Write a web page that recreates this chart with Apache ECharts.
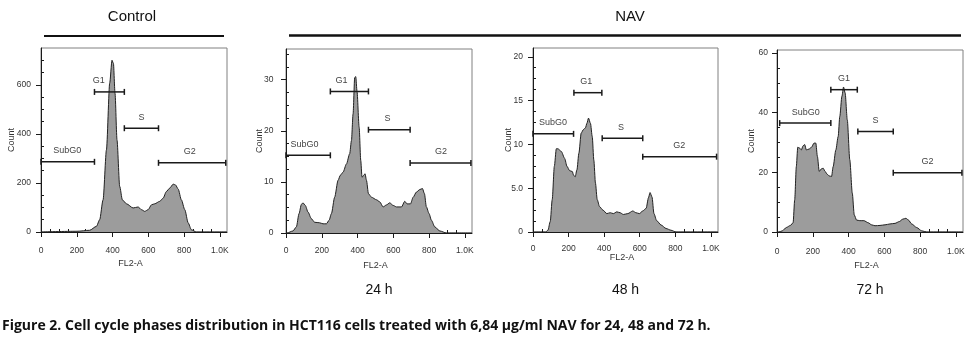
<!DOCTYPE html>
<html><head><meta charset="utf-8">
<script src="https://cdn.jsdelivr.net/npm/echarts@6/dist/echarts.min.js"></script>
<style>html,body{margin:0;padding:0;background:#fff}#c{width:974px;height:362px}</style>
</head><body><div id="c"></div><script>
// ---------- data ----------
const X_MAX = 1040;
const xTickValues = [0, 200, 400, 600, 800, 1000];
const xTickLabels = ['0', '200', '400', '600', '800', '1.0K'];
const xMinorTicks = [50, 100, 150, 250, 300, 350, 450, 500, 550, 650, 700, 750, 850, 900, 950];

const gateNames = ['SubG0', 'G1', 'S', 'G2'];

// Control
const ctrlX = [0, 201, 272, 310, 328, 347, 366, 384, 397, 405, 414, 425, 440, 455, 478, 515, 543, 562, 580, 599, 618, 636, 664, 683, 701, 720, 739, 752, 767, 785, 804, 823, 841, 869, 1040];
const ctrlY = [0, 3, 7, 23, 50, 131, 335, 606, 700, 687, 565, 375, 186, 131, 115, 98, 102, 91, 84, 91, 111, 115, 125, 138, 165, 179, 195, 192, 175, 131, 91, 37, 9, 0, 0];
const ctrlYMax = 750;
const ctrlYTicks = [0, 200, 400, 600];
const ctrlYTickLabels = ['0', '200', '400', '600'];
const ctrlYMinor = [50, 100, 150, 250, 300, 350, 450, 500, 550, 650, 700];
const ctrlGateStart = [0, 299, 466, 657];
const ctrlGateEnd = [299, 466, 657, 1033];
const ctrlGateLevel = [286, 571, 423, 282];
const ctrlGateLabelX = [147, 323, 562, 832];

// NAV 24 h
const h24X = [0, 6, 39, 58, 73, 86, 95, 108, 123, 142, 160, 188, 207, 226, 241, 254, 272, 291, 304, 319, 338, 356, 366, 375, 384, 390, 397, 409, 418, 425, 435, 442, 450, 461, 478, 506, 524, 543, 562, 580, 599, 618, 646, 664, 677, 696, 711, 729, 748, 763, 774, 785, 800, 813, 832, 860, 897, 1040];
const h24Y = [0, 0, 0.4, 1.2, 3.8, 5.6, 5.9, 5.4, 4.1, 2.8, 2.1, 2.0, 1.8, 1.8, 2.5, 3.8, 7.0, 10.3, 11.3, 11.9, 13.5, 15.5, 18.1, 23.3, 30.4, 30.6, 27.8, 20.7, 14.2, 10.9, 11.3, 11.6, 10.3, 7.7, 7.0, 6.5, 6.1, 5.1, 5.5, 5.9, 5.4, 5.1, 5.1, 6.2, 5.7, 5.7, 7.0, 8.0, 8.5, 8.7, 7.7, 5.1, 3.8, 2.5, 1.2, 0.4, 0, 0];
const h24YMax = 36;
const h24YTicks = [0, 10, 20, 30];
const h24YTickLabels = ['0', '10', '20', '30'];
const h24YMinor = [2.5, 5, 7.5, 12.5, 15, 17.5, 22.5, 25, 27.5, 32.5, 35];
const h24GateStart = [0, 248, 461, 694];
const h24GateEnd = [248, 461, 694, 1034];
const h24GateLevel = [15.2, 27.7, 20.2, 13.7];
const h24GateLabelX = [104, 310, 567, 866];

// NAV 48 h
const h48X = [0, 71, 84, 97, 108, 120, 131, 140, 159, 178, 191, 206, 221, 228, 237, 247, 258, 271, 284, 295, 303, 312, 323, 333, 342, 351, 361, 374, 393, 415, 434, 452, 471, 490, 508, 533, 561, 579, 598, 617, 636, 649, 658, 669, 680, 695, 720, 748, 776, 804, 1040];
const h48Y = [0, 0, 0.2, 1.2, 3.7, 7.5, 9.5, 9.5, 9.2, 8.4, 7.5, 7.0, 6.9, 6.5, 6.3, 7.1, 9.0, 11.3, 11.7, 11.9, 12.4, 13.0, 12.4, 10.9, 8.2, 5.6, 3.7, 2.9, 2.5, 2.1, 2.2, 2.1, 2.3, 2.2, 2.0, 2.1, 2.4, 2.2, 2.1, 2.4, 2.7, 3.9, 4.5, 4.0, 2.1, 1.3, 0.8, 0.4, 0.2, 0, 0];
const h48YMax = 21;
const h48YTicks = [0, 5, 10, 15, 20];
const h48YTickLabels = ['0', '5.0', '10', '15', '20'];
const h48YMinor = [1.25, 2.5, 3.75, 6.25, 7.5, 8.75, 11.25, 12.5, 13.75, 16.25, 17.5, 18.75];
const h48GateStart = [0, 230, 389, 617];
const h48GateEnd = [228, 387, 617, 1032];
const h48GateLevel = [11.2, 15.9, 10.7, 8.6];
const h48GateLabelX = [112, 299, 495, 822];

// NAV 72 h
const h72X = [0, 11, 30, 52, 75, 90, 99, 108, 116, 127, 136, 146, 155, 164, 179, 193, 207, 217, 226, 236, 247, 258, 269, 280, 292, 305, 314, 329, 342, 351, 363, 372, 381, 393, 407, 421, 432, 445, 463, 486, 510, 529, 548, 576, 604, 632, 660, 684, 703, 721, 735, 753, 781, 809, 837, 1040];
const h72Y = [0, 0, 0.4, 1.5, 2.2, 3.1, 10.8, 21.9, 28.4, 28.1, 27.5, 28.9, 29.3, 27.5, 27.8, 28.4, 29.8, 29.8, 25.3, 20.3, 21.1, 21.4, 20.3, 19.4, 18.8, 18.6, 21.9, 27.5, 32.0, 38.7, 45.5, 48.6, 46.6, 37.6, 24.2, 13.0, 5.7, 4.0, 3.8, 3.8, 3.1, 2.4, 2.1, 2.2, 2.4, 2.7, 2.9, 3.5, 4.3, 4.6, 4.0, 2.7, 1.5, 0.4, 0, 0];
const h72YMax = 61;
const h72YTicks = [0, 20, 40, 60];
const h72YTickLabels = ['0', '20', '40', '60'];
const h72YMinor = [5, 10, 15, 25, 30, 35, 45, 50, 55];
const h72GateStart = [15, 301, 452, 650];
const h72GateEnd = [301, 449, 650, 1034];
const h72GateLevel = [36.5, 47.7, 33.7, 19.9];
const h72GateLabelX = [161, 374, 551, 841];

const groupTitles = ['Control', 'NAV'];
const timeLabels = ['24 h', '48 h', '72 h'];
const caption = 'Figure 2. Cell cycle phases distribution in HCT116 cells treated with 6,84 \u00b5g/ml NAV for 24, 48 and 72 h.';

// ---------- layout / style ----------
const FONT = "'Liberation Sans', Arial, sans-serif";
const panels = [
  {x: ctrlX, y: ctrlY, yMax: ctrlYMax, yt: ctrlYTicks, ytl: ctrlYTickLabels, ym: ctrlYMinor,
   gs: ctrlGateStart, ge: ctrlGateEnd, gl: ctrlGateLevel, glx: ctrlGateLabelX,
   grid: {left: 41, top: 48, width: 186, height: 184}, yLM: 10, xLM: 14, xNG: 27, yNG: 25},
  {x: h24X, y: h24Y, yMax: h24YMax, yt: h24YTicks, ytl: h24YTickLabels, ym: h24YMinor,
   gs: h24GateStart, ge: h24GateEnd, gl: h24GateLevel, glx: h24GateLabelX,
   grid: {left: 286, top: 49, width: 186, height: 184}, yLM: 12.5, xLM: 13.5, xNG: 28, yNG: 22},
  {x: h48X, y: h48Y, yMax: h48YMax, yt: h48YTicks, ytl: h48YTickLabels, ym: h48YMinor,
   gs: h48GateStart, ge: h48GateEnd, gl: h48GateLevel, glx: h48GateLabelX,
   grid: {left: 533, top: 48, width: 185, height: 184}, yLM: 10, xLM: 12.5, xNG: 21, yNG: 20},
  {x: h72X, y: h72Y, yMax: h72YMax, yt: h72YTicks, ytl: h72YTickLabels, ym: h72YMinor,
   gs: h72GateStart, ge: h72GateEnd, gl: h72GateLevel, glx: h72GateLabelX,
   grid: {left: 777, top: 50, width: 186, height: 182}, yLM: 9, xLM: 15.5, xNG: 29.5, yNG: 20.5}
];

const AX = '#1a1a1a';
const grids = [], xAxes = [], yAxes = [], series = [];
panels.forEach((p, i) => {
  grids.push(Object.assign({show: true, borderColor: '#808080', borderWidth: 1, backgroundColor: '#fff'}, p.grid));
  xAxes.push({
    type: 'value', gridIndex: i, min: 0, max: X_MAX,
    axisLine: {show: true, onZero: false, lineStyle: {color: AX, width: 1}},
    axisTick: {show: true, length: 5, customValues: xTickValues, lineStyle: {color: AX}},
    axisLabel: {customValues: xTickValues, formatter: v => xTickLabels[xTickValues.indexOf(v)],
      margin: p.xLM, fontSize: 8.5, color: '#333', fontFamily: FONT},
    splitLine: {show: false},
    name: 'FL2-A', nameLocation: 'middle', nameGap: p.xNG, nameMoveOverlap: false,
    nameTextStyle: {fontSize: 9, color: '#333', fontFamily: FONT, padding: [0, 7, 0, 0]}
  });
  xAxes.push({
    type: 'value', gridIndex: i, min: 0, max: X_MAX,
    axisLine: {show: false}, axisLabel: {show: false}, splitLine: {show: false},
    axisTick: {show: true, length: 3, customValues: xMinorTicks, lineStyle: {color: AX}}
  });
  yAxes.push({
    type: 'value', gridIndex: i, min: 0, max: p.yMax,
    axisLine: {show: true, onZero: false, lineStyle: {color: AX, width: 1}},
    axisTick: {show: true, length: 5, customValues: p.yt, lineStyle: {color: AX}},
    axisLabel: {customValues: p.yt, formatter: v => p.ytl[p.yt.indexOf(v)],
      margin: p.yLM, fontSize: 8.5, color: '#333', fontFamily: FONT},
    splitLine: {show: false},
    name: 'Count', nameLocation: 'middle', nameGap: p.yNG, nameMoveOverlap: false,
    nameTextStyle: {fontSize: 9, color: '#333', fontFamily: FONT}
  });
  yAxes.push({
    type: 'value', gridIndex: i, min: 0, max: p.yMax,
    axisLine: {show: false}, axisLabel: {show: false}, splitLine: {show: false},
    axisTick: {show: true, length: 3, customValues: p.ym, lineStyle: {color: AX}}
  });
  series.push({
    type: 'line', xAxisIndex: 2 * i, yAxisIndex: 2 * i,
    data: p.x.map((v, k) => [v, p.y[k]]),
    showSymbol: false, smooth: 0.25, smoothMonotone: 'x',
    lineStyle: {color: '#222', width: 1},
    areaStyle: {color: '#9c9c9c', opacity: 1},
    z: 2, silent: true
  });
  series.push({
    type: 'custom', xAxisIndex: 2 * i, yAxisIndex: 2 * i,
    data: p.gs.map((s, k) => [s, p.ge[k], p.gl[k], p.glx[k]]),
    encode: {x: [0, 1, 3], y: 2},
    z: 5, silent: true,
    renderItem: (params, api) => {
      const a = api.coord([api.value(0), api.value(2)]);
      const b = api.coord([api.value(1), api.value(2)]);
      const l = api.coord([api.value(3), api.value(2)]);
      const st = {stroke: '#1a1a1a', lineWidth: 1.5};
      return {type: 'group', children: [
        {type: 'line', shape: {x1: a[0], y1: a[1], x2: b[0], y2: b[1]}, style: st},
        {type: 'line', shape: {x1: a[0], y1: a[1] - 3, x2: a[0], y2: a[1] + 3}, style: st},
        {type: 'line', shape: {x1: b[0], y1: b[1] - 3, x2: b[0], y2: b[1] + 3}, style: st},
        {type: 'text', x: l[0], y: l[1] - 11, style: {text: gateNames[params.dataIndex],
          fontSize: 9, fill: '#444', align: 'center', verticalAlign: 'middle', fontFamily: FONT}}
      ]};
    }
  });
});

const panelCenters = panels.slice(1).map(p => p.grid.left + p.grid.width / 2);
const graphic = [
  {type: 'text', x: 132, y: 17, style: {text: groupTitles[0], fontSize: 15, fill: '#111', align: 'center', verticalAlign: 'middle', fontFamily: FONT}},
  {type: 'line', shape: {x1: 44, y1: 36, x2: 224, y2: 36}, style: {stroke: '#111', lineWidth: 2}},
  {type: 'text', x: 630, y: 17, style: {text: groupTitles[1], fontSize: 15, fill: '#111', align: 'center', verticalAlign: 'middle', fontFamily: FONT}},
  {type: 'line', shape: {x1: 289, y1: 35.5, x2: 961, y2: 35.5}, style: {stroke: '#111', lineWidth: 2.5}},
  {type: 'text', x: 2, y: 326, style: {text: caption, fontSize: 14, fontWeight: 'bold', fill: '#111', align: 'left', verticalAlign: 'middle', fontFamily: "'Open Sans', sans-serif"}}
].concat(timeLabels.map((t, k) => ({type: 'text', x: panelCenters[k], y: 290,
  style: {text: t, fontSize: 14, fill: '#111', align: 'center', verticalAlign: 'middle', fontFamily: FONT}})));

const chart = echarts.init(document.getElementById('c'), null, {renderer: 'canvas'});
chart.setOption({
  animation: false,
  backgroundColor: '#fff',
  grid: grids, xAxis: xAxes, yAxis: yAxes, series: series, graphic: graphic
});
</script></body></html>
